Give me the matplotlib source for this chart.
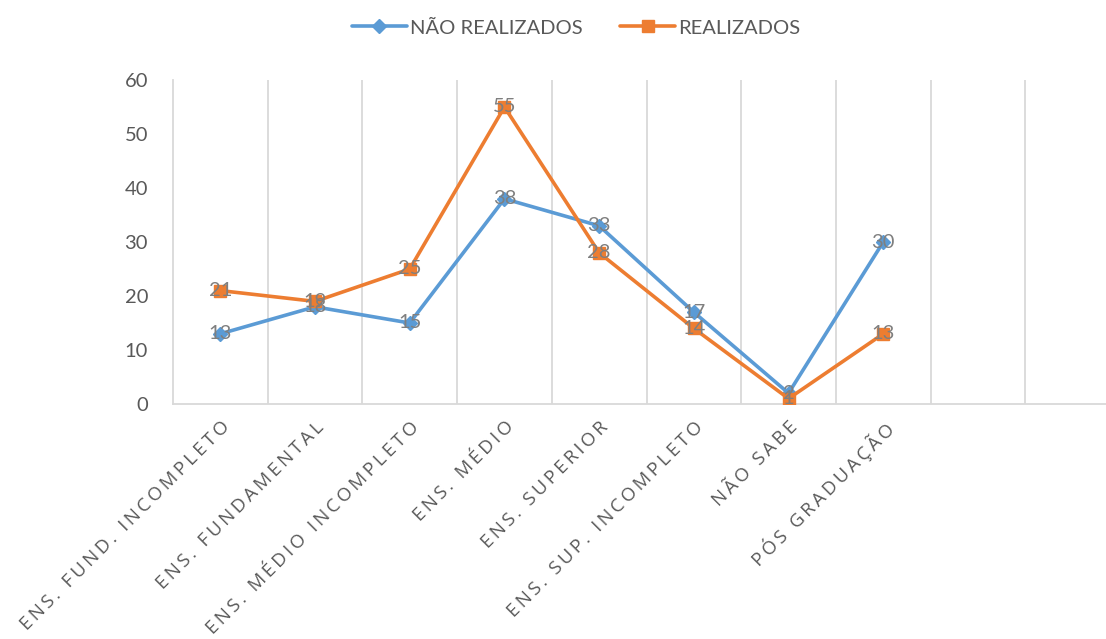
import numpy as np
import matplotlib
matplotlib.use("Agg")
import matplotlib.pyplot as plt

# --- data ---
categories = ["ENS. FUND. INCOMPLETO", "ENS. FUNDAMENTAL", "ENS. MÉDIO INCOMPLETO",
              "ENS. MÉDIO", "ENS. SUPERIOR", "ENS. SUP. INCOMPLETO",
              "NÃO SABE", "PÓS GRADUAÇÃO", "", ""]
nao_realizados = [13, 18, 15, 38, 33, 17, 2, 30]
realizados = [21, 19, 25, 55, 28, 14, 1, 13]
y_ticks = [0, 10, 20, 30, 40, 50, 60]

BLUE = '#5B9BD5'
ORANGE = '#ED7D31'
LABEL_GRAY = '#7F7F7F'
TEXT_GRAY = '#595959'
GRID = '#D9D9D9'

plt.rcParams['font.family'] = ['Lato', 'DejaVu Sans']


def spaced(s, sep='\u2009'):
    """Excel-like letter spacing on category labels."""
    return sep.join(s)


fig = plt.figure(figsize=(11.06, 6.39), dpi=100)
ax = fig.add_axes([173/1106, 1-404/639, (1120-173)/1106, 324/639])

x = np.arange(len(categories))
xs = x[:len(nao_realizados)]

ax.plot(xs, nao_realizados, color=BLUE, lw=2.6, marker='D', ms=7,
        label='NÃO REALIZADOS', zorder=3, solid_capstyle='round')
ax.plot(xs, realizados, color=ORANGE, lw=2.6, marker='s', ms=8,
        label='REALIZADOS', zorder=3, solid_capstyle='round')

# data labels centred on the points
for xi, v in zip(xs, nao_realizados):
    ax.text(xi, v, str(v), ha='center', va='center', fontsize=14.5,
            color=LABEL_GRAY, zorder=4)
for xi, v in zip(xs, realizados):
    ax.text(xi, v, str(v), ha='center', va='center', fontsize=14.5,
            color=LABEL_GRAY, zorder=4)

ax.set_xlim(-0.5, len(categories) - 0.5)
ax.set_ylim(0, 60)
ax.set_yticks(y_ticks)
ax.tick_params(axis='y', length=0, pad=18, labelsize=14.5, labelcolor=TEXT_GRAY)

# vertical gridlines between categories
ax.set_xticks(np.arange(0.5, len(categories) - 0.5), minor=True)
ax.grid(which='minor', axis='x', color=GRID, lw=1.3)
ax.set_xticks(x)
ax.set_xticklabels([spaced(c) for c in categories], rotation=45, ha='right',
                   va='top', rotation_mode='anchor', fontsize=13.5,
                   color=TEXT_GRAY, family=['Open Sans', 'DejaVu Sans'])
ax.tick_params(axis='x', which='both', length=0, pad=10)

for side in ['top', 'right']:
    ax.spines[side].set_visible(False)
ax.spines['left'].set_color(GRID)
ax.spines['bottom'].set_color(GRID)
ax.spines['left'].set_linewidth(1.3)
ax.spines['bottom'].set_linewidth(1.3)

fig.legend(loc='center', bbox_to_anchor=(576/1106, 1-28/639), ncol=2,
           frameon=False, fontsize=14.5, labelcolor=TEXT_GRAY,
           handlelength=2.75, columnspacing=1.85, handletextpad=0.15)

fig.savefig('out.png', dpi=100)
